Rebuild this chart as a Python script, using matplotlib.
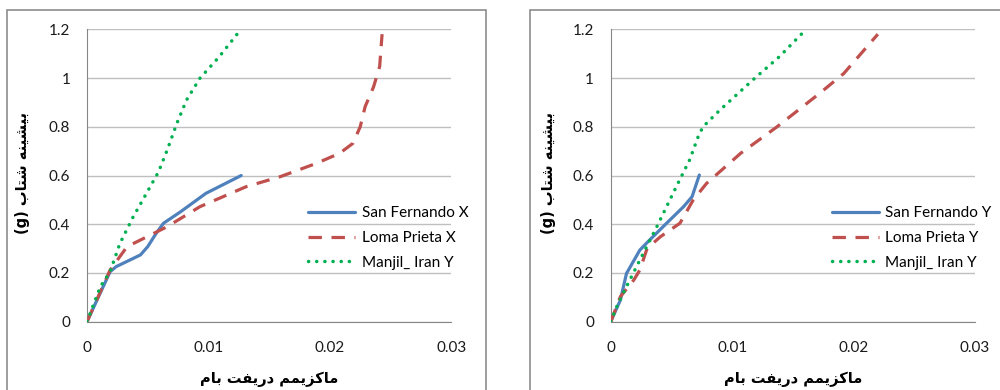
import matplotlib
matplotlib.use("Agg")
import matplotlib.pyplot as plt
from matplotlib.patches import Rectangle

# ---- data ----
sf_x_drift = [0, 0.0019, 0.0024, 0.0044, 0.0050, 0.0057, 0.0063, 0.0077, 0.0098, 0.0127]
sf_x_acc = [0, 0.205, 0.226, 0.274, 0.308, 0.363, 0.404, 0.451, 0.527, 0.600]
lp_x_drift = [0, 0.0019, 0.0033, 0.0066, 0.0093, 0.0131, 0.0159, 0.0189, 0.0208, 0.0219,
              0.0225, 0.0229, 0.0236, 0.0241, 0.0243]
lp_x_acc = [0, 0.212, 0.308, 0.390, 0.472, 0.554, 0.595, 0.650, 0.691, 0.732,
            0.800, 0.882, 0.964, 1.047, 1.180]
mj_x_drift = [0, 0.0011, 0.0019, 0.0027, 0.0038, 0.0049, 0.0059, 0.0066, 0.0074, 0.0082,
              0.0093, 0.0109, 0.0126]
mj_x_acc = [0, 0.144, 0.205, 0.320, 0.430, 0.527, 0.616, 0.704, 0.814, 0.910,
            0.999, 1.088, 1.195]

sf_y_drift = [0, 0.0008, 0.0013, 0.0024, 0.0032, 0.0046, 0.0060, 0.0067, 0.0073]
sf_y_acc = [0, 0.089, 0.198, 0.294, 0.335, 0.404, 0.472, 0.513, 0.602]
lp_y_drift = [0, 0.0008, 0.0019, 0.0024, 0.0030, 0.0041, 0.0057, 0.0068, 0.0079, 0.0107,
              0.0137, 0.0172, 0.0192, 0.0220]
lp_y_acc = [0, 0.103, 0.171, 0.212, 0.301, 0.349, 0.404, 0.500, 0.568, 0.691,
            0.800, 0.937, 1.019, 1.180]
mj_y_drift = [0, 0.0005, 0.0013, 0.0024, 0.0038, 0.0054, 0.0065, 0.0072, 0.0076, 0.0090,
              0.0117, 0.0139, 0.0159]
mj_y_acc = [0, 0.062, 0.144, 0.253, 0.390, 0.554, 0.664, 0.759, 0.800, 0.869,
            0.992, 1.088, 1.190]

x_ticks = [0, 0.01, 0.02, 0.03]
x_tick_labels = ["0", "0.01", "0.02", "0.03"]
y_ticks = [0, 0.2, 0.4, 0.6, 0.8, 1.0, 1.2]
y_tick_labels = ["0", "0.2", "0.4", "0.6", "0.8", "1", "1.2"]

x_label = "ماکزیمم دریفت بام"
y_label = "بیشینه شتاب (g)"

# ---- minimal Persian shaping (matplotlib has no RTL / joining support) ----
FORMS = {  # isolated, final, initial, medial
    "ا": ("\uFE8D", "\uFE8E", None, None),
    "ب": ("\uFE8F", "\uFE90", "\uFE91", "\uFE92"),
    "ت": ("\uFE95", "\uFE96", "\uFE97", "\uFE98"),
    "د": ("\uFEA9", "\uFEAA", None, None),
    "ر": ("\uFEAD", "\uFEAE", None, None),
    "ز": ("\uFEAF", "\uFEB0", None, None),
    "ش": ("\uFEB5", "\uFEB6", "\uFEB7", "\uFEB8"),
    "ف": ("\uFED1", "\uFED2", "\uFED3", "\uFED4"),
    "م": ("\uFEE1", "\uFEE2", "\uFEE3", "\uFEE4"),
    "ن": ("\uFEE5", "\uFEE6", "\uFEE7", "\uFEE8"),
    "ه": ("\uFEE9", "\uFEEA", "\uFEEB", "\uFEEC"),
    "ک": ("\uFB8E", "\uFB8F", "\uFB90", "\uFB91"),
    "ی": ("\uFBFC", "\uFBFD", "\uFBFE", "\uFBFF"),
}


def shape_word(word):
    out = []
    for i, ch in enumerate(word):
        if ch not in FORMS:
            out.append(ch)
            continue
        prev = word[i - 1] if i > 0 else None
        nxt = word[i + 1] if i + 1 < len(word) else None
        joins_prev = prev in FORMS and FORMS[prev][2] is not None
        joins_next = nxt in FORMS and FORMS[ch][2] is not None
        iso, fin, ini, med = FORMS[ch]
        if joins_prev and joins_next:
            out.append(med)
        elif joins_prev:
            out.append(fin)
        elif joins_next:
            out.append(ini)
        else:
            out.append(iso)
    return "".join(out)


def rtl(text):
    words = []
    for w in text.split(" "):
        if any(c in FORMS for c in w):
            words.append(shape_word(w)[::-1])
        else:
            words.append(w)
    return " ".join(words[::-1])


plt.rcParams["font.family"] = ["Lato", "DejaVu Sans"]
plt.rcParams["font.size"] = 11

blue = "#4F81BD"
red = "#C0504D"
green = "#00B050"
grid_col = "#BFBFBF"
spine_col = "#868686"

fig = plt.figure(figsize=(10, 3.9), dpi=100)

# outer chart-area boxes
for x0, w in [(0.007, 0.479), (0.530, 0.480)]:
    fig.patches.append(Rectangle((x0, -0.05), w, 1.024, transform=fig.transFigure,
                                 fill=False, edgecolor="#8C8C8C", linewidth=1.2))

panels = [
    (0.087, [(sf_x_drift, sf_x_acc, "San Fernando X"),
             (lp_x_drift, lp_x_acc, "Loma Prieta X"),
             (mj_x_drift, mj_x_acc, "Manjil_ Iran Y")], 0.023),
    (0.6107, [(sf_y_drift, sf_y_acc, "San Fernando Y"),
              (lp_y_drift, lp_y_acc, "Loma Prieta Y"),
              (mj_y_drift, mj_y_acc, "Manjil_ Iran Y")], 0.548),
]

for left, series, ylab_x in panels:
    ax = fig.add_axes([left, 0.1751, 0.3643, 0.7498])
    (d1, a1, n1), (d2, a2, n2), (d3, a3, n3) = series
    ax.plot(d1, a1, color=blue, lw=2.3, solid_capstyle="round", solid_joinstyle="round",
            label=n1, zorder=3)
    ax.plot(d2, a2, color=red, lw=2.3, dashes=(4.2, 3), label=n2, zorder=3)
    ax.plot(d3, a3, color=green, lw=2.5, linestyle=(0, (0.05, 2.3)),
            dash_capstyle="round", label=n3, zorder=3)

    ax.set_xlim(0, 0.03)
    ax.set_ylim(0, 1.2)
    ax.set_xticks(x_ticks)
    ax.set_xticklabels(x_tick_labels)
    ax.set_yticks(y_ticks)
    ax.set_yticklabels(y_tick_labels)
    ax.tick_params(length=0, labelsize=11, colors="#1a1a1a")
    ax.tick_params(axis="x", pad=14)
    ax.tick_params(axis="y", pad=12)
    ax.grid(axis="y", color=grid_col, lw=1)
    ax.set_axisbelow(True)
    for s in ["top", "right"]:
        ax.spines[s].set_visible(False)
    ax.spines["left"].set_color(spine_col)
    ax.spines["bottom"].set_color(spine_col)

    ax.set_xlabel(rtl(x_label), family=["DejaVu Sans"], fontweight="bold",
                  fontsize=10.5, labelpad=12)
    fig.text(ylab_x, 0.556, rtl(y_label), rotation=90, ha="center", va="center",
             family=["DejaVu Sans"], fontweight="bold", fontsize=10.5)

    ax.legend(loc="upper left", bbox_to_anchor=(0.607, 0.395), frameon=False,
              borderpad=0, borderaxespad=0, handlelength=3.1, handletextpad=0.4,
              labelspacing=0.7, fontsize=11)

fig.savefig("out.png", dpi=100)
